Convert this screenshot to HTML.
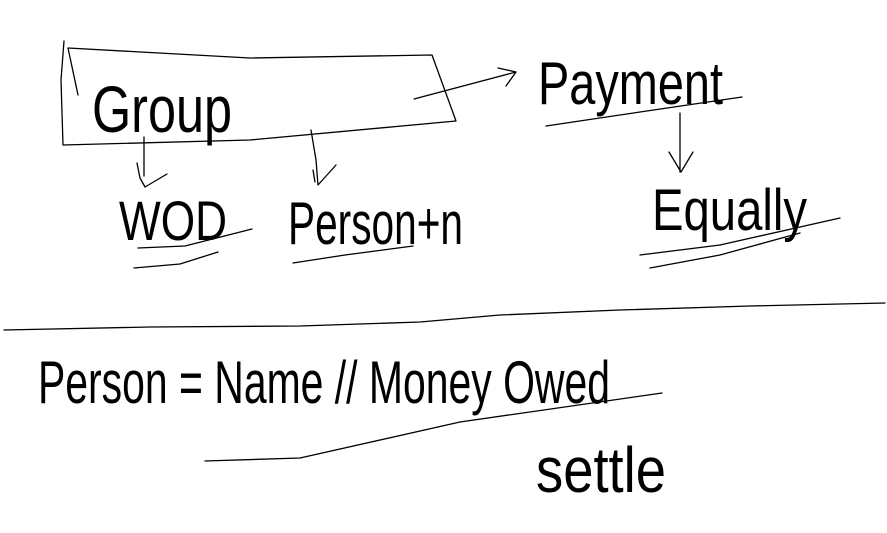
<!DOCTYPE html>
<html><head><meta charset="utf-8"><style>
html,body{margin:0;padding:0;background:#fff;width:887px;height:533px;overflow:hidden}
svg{display:block}
text{font-family:"Liberation Sans Narrow","Liberation Sans",sans-serif;fill:#000;font-weight:normal}
</style></head><body>
<svg width="887" height="533" viewBox="0 0 887 533" xmlns="http://www.w3.org/2000/svg">
<g fill="none" stroke="#000" stroke-width="1.3" stroke-linecap="round" stroke-linejoin="round">
<!-- box -->
<path d="M64,41 L61,80 L63,145 L250,140 L456,121 L432,55 L250,58 L68,48 L78,95"/>
<!-- arrow to payment -->
<path d="M414,99 L516,72 M498,68 L516,72 L506,86"/>
<!-- down arrows -->
<path d="M144,137 L144,176 M137,163 L140,178 L145,187 L167,174"/>
<path d="M311,130 L316,160 L318,185 L336,165 M313,170 L315,182"/>
<!-- underlines -->
<path d="M138,248 L185,246 L252,229"/>
<path d="M134,268 L180,264 L218,252"/>
<path d="M293,263 L345,255 L413,246"/>
<path d="M546,126 L640,112 L742,97"/>
<path d="M680,113 L680,172 M669,152 L681,172 L693,152"/>
<path d="M640,255 L720,245 L840,218"/>
<path d="M650,268 L720,255 L800,233"/>
<!-- divider -->
<path d="M4,330 L150,327 L300,326 L420,322 L500,315 L620,310 L750,306 L885,303"/>
<!-- long line -->
<path d="M205,461 L300,458 L460,422 L662,393"/>
</g>
<text x="92" y="132" font-size="66" textLength="140" lengthAdjust="spacingAndGlyphs">Group</text>
<text x="119" y="240" font-size="56" textLength="108" lengthAdjust="spacingAndGlyphs">WOD</text>
<text x="288" y="244" font-size="60" textLength="175" lengthAdjust="spacingAndGlyphs">Person+n</text>
<text x="538" y="104" font-size="60" textLength="185" lengthAdjust="spacingAndGlyphs">Payment</text>
<text x="652" y="230" font-size="58" textLength="155" lengthAdjust="spacingAndGlyphs">Equally</text>
<text x="38" y="403" font-size="60" textLength="572" lengthAdjust="spacingAndGlyphs">Person = Name // Money Owed</text>
<text x="536" y="492" font-size="64" textLength="130" lengthAdjust="spacingAndGlyphs">settle</text>
</svg>
</body></html>
